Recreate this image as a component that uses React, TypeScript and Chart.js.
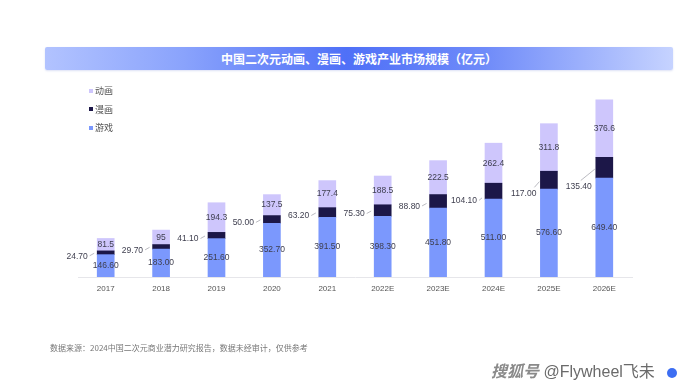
import React, { useEffect, useRef } from "react";
import { Chart, registerables } from "chart.js";

Chart.register(...registerables);

const categories = ["2017", "2018", "2019", "2020", "2021", "2022E", "2023E", "2024E", "2025E", "2026E"];
const gameValues = [146.6, 183.0, 251.6, 352.7, 391.5, 398.3, 451.8, 511.0, 576.6, 649.4];
const comicValues = [24.7, 29.7, 41.1, 50.0, 63.2, 75.3, 88.8, 104.1, 117.0, 135.4];
const animeValues = [81.5, 95, 194.3, 137.5, 177.4, 188.5, 222.5, 262.4, 311.8, 376.6];

const seriesNames = ["游戏", "漫画", "动画"];
const seriesColors = ["#7b98fd", "#1c1748", "#cec6fc"];

const TITLE = "中国二次元动画、漫画、游戏产业市场规模（亿元）";
const SOURCE = "数据来源：2024中国二次元商业潜力研究报告，数据未经审计，仅供参考";

const labelFont = "8.5px 'Liberation Sans', Arial, sans-serif";
const labelColor = "#3e3e4e";

const labelPlugin = {
  id: "barLabels",
  afterDatasetsDraw(chart: any) {
    const ctx = chart.ctx;
    ctx.save();
    ctx.font = labelFont;
    ctx.fillStyle = labelColor;
    ctx.textBaseline = "middle";
    chart.data.datasets.forEach((ds: any, di: number) => {
      const meta = chart.getDatasetMeta(di);
      meta.data.forEach((bar: any, i: number) => {
        const v = ds.data[i] as number;
        const { x, y, base, width } = bar.getProps(["x", "y", "base", "width"], true);
        const top = Math.min(y, base);
        const bottom = Math.max(y, base);
        const mid = (top + bottom) / 2;
        const h = bottom - top;
        if (di === 0) {
          ctx.textAlign = "center";
          ctx.fillText(v.toFixed(2), x, mid);
        } else if (di === 2) {
          ctx.textAlign = "center";
          ctx.fillText(String(v), x, mid);
        } else {
          const barLeft = x - width / 2;
          const dy = Math.max(3.5, (h - 11) * 2);
          const textY = mid + dy;
          let textRight: number, sx: number, sy: number, ex: number, ey: number;
          if (h > 17) {
            textRight = barLeft - 4;
            sx = textRight - (h > 19 ? 11 : 2);
            sy = textY - 6.5;
            ex = barLeft - 1;
            ey = mid + 1.5;
          } else {
            textRight = barLeft - (h > 14 ? 8 : 9.5);
            sx = textRight + 2;
            sy = textY - 0.5;
            ex = barLeft - 3;
            ey = textY - 3;
          }
          ctx.textAlign = "right";
          ctx.fillText(v.toFixed(2), textRight, textY);
          ctx.strokeStyle = "#a8a8b0";
          ctx.lineWidth = 0.8;
          ctx.beginPath();
          ctx.moveTo(sx, sy);
          ctx.lineTo(ex, ey);
          ctx.stroke();
        }
      });
    });
    ctx.restore();
  },
};

export default function App() {
  const canvasRef = useRef<HTMLCanvasElement | null>(null);

  useEffect(() => {
    if (!canvasRef.current) return;
    const valueSets = [gameValues, comicValues, animeValues];
    const chart = new Chart(canvasRef.current, {
      type: "bar",
      data: {
        labels: categories,
        datasets: valueSets.map((vals, i) => ({
          label: seriesNames[i],
          data: vals,
          backgroundColor: seriesColors[i],
          borderWidth: 0,
          barThickness: 17,
        })),
      },
      options: {
        responsive: false,
        animation: false,
        layout: { padding: { left: 78, right: 58, top: 94, bottom: 87.4 } },
        plugins: {
          legend: { display: false },
          tooltip: { enabled: false },
          title: { display: false },
        },
        scales: {
          x: {
            stacked: true,
            grid: { display: false, drawTicks: false },
            border: { display: true, color: "#e6e6ea", width: 1 },
            ticks: {
              padding: 7,
              color: "#555",
              font: { size: 8, family: "'Liberation Sans', Arial, sans-serif" },
            },
          },
          y: {
            stacked: true,
            display: false,
            min: 0,
            max: 1200,
          },
        },
      },
      plugins: [labelPlugin],
    });
    return () => chart.destroy();
  }, []);

  const legendOrder = [2, 1, 0];

  return (
    <div
      style={{
        position: "absolute",
        left: 0,
        top: 0,
        width: 690,
        height: 388,
        background: "#ffffff",
        overflow: "hidden",
        fontFamily: "'Noto Sans CJK SC', 'Noto Sans', sans-serif",
      }}
    >
      <div
        style={{
          position: "absolute",
          left: 45,
          top: 47,
          width: 628,
          height: 23,
          borderRadius: 2,
          background: "linear-gradient(90deg, #b2c3ff 0%, #8aa3fc 22%, #4f70f7 48%, #6f8bf9 70%, #c6d3ff 100%)",
          boxShadow: "0 1px 2px rgba(120,140,220,0.25)",
          color: "#ffffff",
          fontWeight: 700,
          fontSize: 12,
          lineHeight: "23px",
          textAlign: "center",
        }}
      >
        {TITLE}
      </div>
      <canvas ref={canvasRef} width={690} height={388} style={{ position: "absolute", left: 0, top: 0 }} />
      {legendOrder.map((si, k) => (
        <div
          key={si}
          style={{
            position: "absolute",
            left: 89,
            top: 84 + k * 18.5,
            height: 13,
            display: "flex",
            alignItems: "center",
            fontSize: 9,
            color: "#555",
          }}
        >
          <span style={{ display: "inline-block", width: 4, height: 4, background: seriesColors[si], marginRight: 2 }} />
          <span>{seriesNames[si]}</span>
        </div>
      ))}
      <div
        style={{
          position: "absolute",
          left: 50,
          top: 342,
          fontSize: 8,
          color: "#777",
          whiteSpace: "nowrap",
        }}
      >
        {SOURCE}
      </div>
      <div
        style={{
          position: "absolute",
          left: 491,
          top: 358,
          fontSize: 16,
          color: "#6a6a6a",
          whiteSpace: "nowrap",
          fontFamily: "'Liberation Sans', 'Noto Sans CJK SC', sans-serif",
        }}
      >
        <span style={{ fontStyle: "italic", fontWeight: 700, color: "#8a8a8a" }}>搜狐号</span> @Flywheel飞未
      </div>
      <div
        style={{
          position: "absolute",
          left: 667,
          top: 368,
          width: 10,
          height: 10,
          borderRadius: 5,
          background: "#3d6ef2",
        }}
      />
    </div>
  );
}
